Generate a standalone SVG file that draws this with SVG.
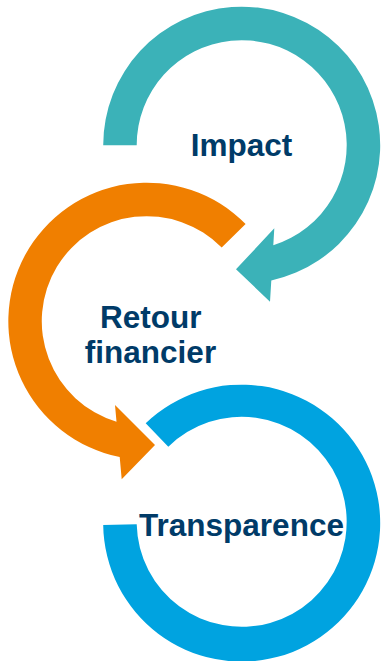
<svg xmlns="http://www.w3.org/2000/svg" width="383" height="661" viewBox="0 0 383 661">
  <style>
    .label { font-family: "Liberation Sans", Arial, sans-serif; font-weight: bold; font-size: 31.5px; fill: #003B68; text-anchor: middle; }
    .teal { fill: #3BB2B8; }
    .orange { fill: #F07F00; }
    .blue { fill: #00A3E0; }
  </style>
  <rect x="0" y="0" width="383" height="661" fill="#FFFFFF"/>
  <g id="node-impact">
    <path class="teal" d="M103.2,145.2 A138.5,138.5 0 1 1 271.3,280.5 L270,301.7 L236,269.3 L274.3,228.3 L273.3,245.3 A105,105 0 1 0 136.7,145.2 Z"/>
    <text class="label" x="241.5" y="155.7">Impact</text>
  </g>
  <g id="node-retour-financier">
    <path class="orange" d="M245.6,224.1 A138.5,138.5 0 1 0 119.7,457 L121.7,479.3 L155,445 L115,405 L116.5,421.7 A105,105 0 1 1 221.7,247.6 Z"/>
    <text class="label" x="150.8" y="328.3">Retour</text>
    <text class="label" x="150.5" y="362.7">financier</text>
  </g>
  <g id="node-transparence">
    <path class="blue" d="M103.2,524.9 A138.5,138.5 0 1 0 145.7,423.3 L168.3,446.7 A105,105 0 1 1 136.7,524.3 Z"/>
    <text class="label" x="241.5" y="535.5">Transparence</text>
  </g>
  <g id="connectors"></g>
</svg>
